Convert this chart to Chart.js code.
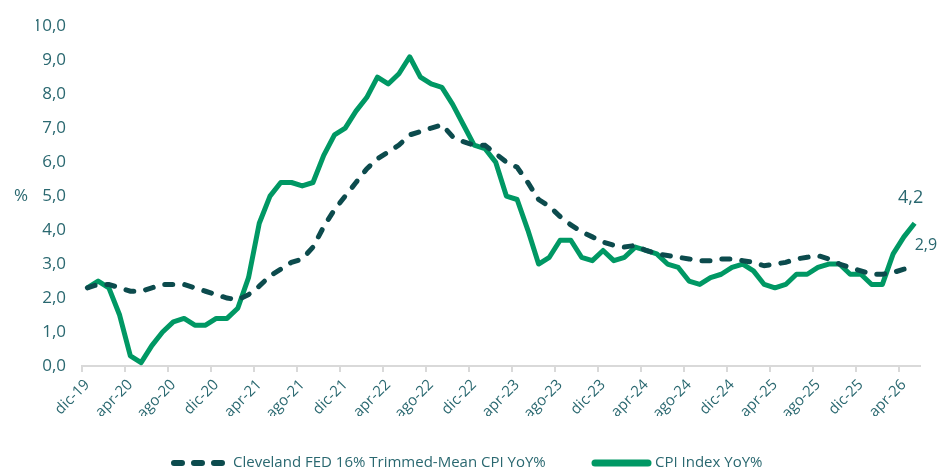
<!DOCTYPE html>
<html>
<head>
<meta charset="utf-8">
<script src="https://cdn.jsdelivr.net/npm/chart.js@4/dist/chart.umd.min.js"></script>
<style>
  html, body { margin: 0; padding: 0; background: #fff; }
  #wrap { width: 938px; height: 473px; }
</style>
</head>
<body>
<div id="wrap"><canvas id="myChart" width="938" height="473"></canvas></div>
<script>
// months dic-19 .. may-26
const months = ['dic-19','ene-20','feb-20','mar-20','apr-20','may-20','jun-20','jul-20','ago-20','sep-20','oct-20','nov-20',
  'dic-20','ene-21','feb-21','mar-21','apr-21','may-21','jun-21','jul-21','ago-21','sep-21','oct-21','nov-21',
  'dic-21','ene-22','feb-22','mar-22','apr-22','may-22','jun-22','jul-22','ago-22','sep-22','oct-22','nov-22',
  'dic-22','ene-23','feb-23','mar-23','apr-23','may-23','jun-23','jul-23','ago-23','sep-23','oct-23','nov-23',
  'dic-23','ene-24','feb-24','mar-24','apr-24','may-24','jun-24','jul-24','ago-24','sep-24','oct-24','nov-24',
  'dic-24','ene-25','feb-25','mar-25','apr-25','may-25','jun-25','jul-25','ago-25','sep-25','oct-25','nov-25',
  'dic-25','ene-26','feb-26','mar-26','apr-26','may-26'];

const clevelandTrimmed = [2.3, 2.4, 2.4, 2.3, 2.2, 2.2, 2.3, 2.4, 2.4, 2.4,
  2.3, 2.2, 2.1, 2.0, 1.95, 2.1, 2.35, 2.65, 2.85, 3.05,
  3.15, 3.5, 4.1, 4.6, 5.0, 5.4, 5.8, 6.1, 6.3, 6.5,
  6.8, 6.9, 7.0, 7.1, 6.75, 6.6, 6.5, 6.5, 6.25, 6.0,
  5.85, 5.4, 4.9, 4.7, 4.4, 4.15, 3.95, 3.8, 3.65, 3.55,
  3.5, 3.55, 3.4, 3.3, 3.25, 3.2, 3.15, 3.1, 3.1, 3.15,
  3.15, 3.1, 3.05, 2.95, 3.0, 3.05, 3.15, 3.2, 3.25, 3.15,
  3.0, 2.9, 2.8, 2.7, 2.7, 2.75, 2.85, 2.9];

const cpiIndex = [2.3, 2.5, 2.3, 1.5, 0.3, 0.1, 0.6, 1.0, 1.3, 1.4,
  1.2, 1.2, 1.4, 1.4, 1.7, 2.6, 4.2, 5.0, 5.4, 5.4,
  5.3, 5.4, 6.2, 6.8, 7.0, 7.5, 7.9, 8.5, 8.3, 8.6,
  9.1, 8.5, 8.3, 8.2, 7.7, 7.1, 6.5, 6.4, 6.0, 5.0,
  4.9, 4.0, 3.0, 3.2, 3.7, 3.7, 3.2, 3.1, 3.4, 3.1,
  3.2, 3.5, 3.4, 3.3, 3.0, 2.9, 2.5, 2.4, 2.6, 2.7,
  2.9, 3.0, 2.8, 2.4, 2.3, 2.4, 2.7, 2.7, 2.9, 3.0,
  3.0, 2.7, 2.7, 2.4, 2.4, 3.3, 3.8, 4.2];

const seriesNames = ['Cleveland FED 16% Trimmed-Mean CPI YoY%', 'CPI Index YoY%'];

const txt = '#2a6870';
const green = '#009864';
const teal = '#0c4b4d';
const fmt = v => v.toFixed(1).replace('.', ',');

// "%" y title, end-of-line value labels and the bottom legend
const extras = {
  id: 'extras',
  afterDatasetsDraw(chart) {
    const ctx = chart.ctx;
    ctx.save();
    ctx.fillStyle = txt;
    ctx.textBaseline = 'middle';
    ctx.font = '17px "Open Sans"';
    ctx.textAlign = 'left';
    ctx.fillText('%', 14, 196);

    const last = months.length - 1;
    const pCpi = chart.getDatasetMeta(1).data[last];
    const pCle = chart.getDatasetMeta(0).data[last];
    ctx.font = '18px "Open Sans"';
    ctx.textAlign = 'center';
    ctx.fillText(fmt(cpiIndex[last]), pCpi.x - 4, pCpi.y - 25);
    ctx.font = '16px "Open Sans"';
    ctx.textAlign = 'left';
    ctx.fillText(fmt(clevelandTrimmed[last]), pCle.x, pCle.y - 22);

    // legend
    const ly = 463;
    const items = [
      { ds: chart.data.datasets[0], x0: 174, x1: 222, tx: 233, w: 6 },
      { ds: chart.data.datasets[1], x0: 595, x1: 648, tx: 655, w: 7 }
    ];
    ctx.font = '15px "Open Sans"';
    items.forEach(it => {
      ctx.beginPath();
      ctx.strokeStyle = it.ds.borderColor;
      ctx.lineWidth = it.w;
      ctx.lineCap = 'round';
      ctx.setLineDash(it.ds.borderDash || []);
      ctx.moveTo(it.x0, ly);
      ctx.lineTo(it.x1, ly);
      ctx.stroke();
      ctx.setLineDash([]);
      ctx.fillStyle = txt;
      ctx.fillText(it.ds.label, it.tx, ly);
    });
    ctx.restore();
  }
};

new Chart(document.getElementById('myChart'), {
  type: 'line',
  data: {
    labels: months,
    datasets: [
      {
        label: seriesNames[0],
        data: clevelandTrimmed,
        borderColor: teal,
        backgroundColor: teal,
        borderWidth: 5,
        borderDash: [8, 12],
        borderCapStyle: 'round',
        pointRadius: 0,
        tension: 0,
        fill: false
      },
      {
        label: seriesNames[1],
        data: cpiIndex,
        borderColor: green,
        backgroundColor: green,
        borderWidth: 5,
        borderJoinStyle: 'round',
        pointRadius: 0,
        tension: 0,
        fill: false
      }
    ]
  },
  options: {
    responsive: false,
    animation: false,
    layout: { padding: { left: 36, right: 18, top: 21, bottom: 57 } },
    plugins: {
      tooltip: { enabled: false },
      legend: { display: false }
    },
    scales: {
      x: {
        offset: true,
        afterFit: s => { s.height = 50; },
        grid: {
          offset: true,
          drawOnChartArea: false,
          tickLength: 6,
          lineWidth: 2,
          color: c => (c.index % 4 === 0 ? '#d9d9d9' : 'rgba(0,0,0,0)')
        },
        border: { color: '#d9d9d9', width: 2 },
        ticks: {
          autoSkip: false,
          minRotation: 45,
          maxRotation: 45,
          padding: 4,
          color: txt,
          font: { family: 'Open Sans', size: 15 },
          callback: function (v, i) { return i % 4 === 0 ? months[i] : ''; }
        }
      },
      y: {
        min: 0,
        max: 10,
        afterFit: s => { s.width = 46; },
        grid: { display: false, drawTicks: false },
        border: { display: false },
        ticks: {
          stepSize: 1,
          padding: 16,
          color: txt,
          font: { family: 'Open Sans', size: 17 },
          callback: v => fmt(v)
        }
      }
    }
  },
  plugins: [extras]
});
</script>
</body>
</html>
